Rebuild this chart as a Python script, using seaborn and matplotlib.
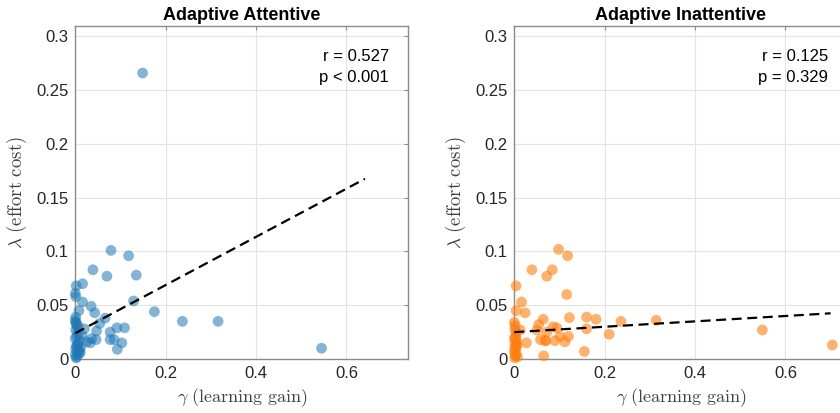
import numpy as np
import matplotlib
matplotlib.use("Agg")
import matplotlib.pyplot as plt
from matplotlib.ticker import FormatStrFormatter
import seaborn as sns

# ---- data -------------------------------------------------------------
gamma_attentive = [
    0.149, 0.545, 0.316, 0.237, 0.175, 0.129, 0.135, 0.118, 0.079, 0.039,
    0.070, 0.016, 0.002, 0.000, 0.001, 0.016, 0.035, 0.043, 0.008, 0.001,
    0.092, 0.109, 0.077, 0.066, 0.054, 0.047, 0.036, 0.025, 0.077, 0.086,
    0.103, 0.093, 0.033, 0.046, 0.000, 0.002, 0.004, 0.001, 0.006, 0.003,
    0.000, 0.010, 0.005, 0.002, 0.012, 0.001, 0.004, 0.008, 0.000, 0.003,
    0.015, 0.006, 0.002, 0.009, 0.001, 0.005, 0.020, 0.011,
]
lambda_attentive = [
    0.266, 0.010, 0.035, 0.035, 0.044, 0.054, 0.078, 0.096, 0.101, 0.083,
    0.077, 0.070, 0.068, 0.061, 0.058, 0.053, 0.049, 0.043, 0.045, 0.039,
    0.029, 0.029, 0.025, 0.038, 0.033, 0.026, 0.019, 0.016, 0.018, 0.018,
    0.015, 0.009, 0.015, 0.018, 0.036, 0.033, 0.030, 0.027, 0.024, 0.021,
    0.019, 0.017, 0.014, 0.012, 0.011, 0.009, 0.007, 0.005, 0.004, 0.002,
    0.022, 0.031, 0.001, 0.008, 0.034, 0.013, 0.028, 0.006,
]

gamma_inattentive = [
    0.704, 0.549, 0.314, 0.236, 0.210, 0.181, 0.160, 0.160, 0.155, 0.122,
    0.116, 0.118, 0.098, 0.084, 0.072, 0.039, 0.004, 0.016, 0.024, 0.004,
    0.064, 0.054, 0.050, 0.086, 0.094, 0.101, 0.120, 0.112, 0.070, 0.058,
    0.065, 0.027, 0.013, 0.072, 0.068, 0.090, 0.000, 0.002, 0.001, 0.004,
    0.003, 0.000, 0.005, 0.002, 0.006, 0.001, 0.003, 0.000, 0.004, 0.002,
    0.007, 0.001, 0.005, 0.003,
]
lambda_inattentive = [
    0.013, 0.027, 0.036, 0.035, 0.023, 0.037, 0.039, 0.028, 0.007, 0.0385,
    0.060, 0.096, 0.102, 0.083, 0.077, 0.083, 0.068, 0.053, 0.043, 0.045,
    0.037, 0.032, 0.027, 0.030, 0.029, 0.021, 0.021, 0.016, 0.017, 0.018,
    0.003, 0.015, 0.027, 0.025, 0.017, 0.017, 0.034, 0.031, 0.028, 0.025,
    0.021, 0.019, 0.017, 0.015, 0.013, 0.011, 0.009, 0.007, 0.005, 0.003,
    0.002, 0.001, 0.012, 0.020,
]

# linear fit lines: (intercept, slope, x end)
fit_attentive = (0.024, 0.224, 0.641)
fit_inattentive = (0.025, 0.025, 0.700)

stats_attentive = "r = 0.527\np < 0.001"
stats_inattentive = "r = 0.125\np = 0.329"

titles = ["Adaptive Attentive", "Adaptive Inattentive"]
x_ticks = [0, 0.2, 0.4, 0.6]
y_ticks = [0, 0.05, 0.1, 0.15, 0.2, 0.25, 0.3]

# ---- style ------------------------------------------------------------
sns.set_theme(style="white")
plt.rcParams["font.family"] = ["Liberation Sans", "DejaVu Sans"]
plt.rcParams["mathtext.fontset"] = "cm"

fig = plt.figure(figsize=(8.4, 4.13), dpi=100)
ax_left = fig.add_axes([75.3 / 840, 54 / 413, 333 / 840, 333.3 / 413])
ax_right = fig.add_axes([514.3 / 840, 54 / 413, 333 / 840, 333.3 / 413])

panels = [
    (ax_left, gamma_attentive, lambda_attentive, "#1f77b4", 0.55, fit_attentive, stats_attentive, titles[0]),
    (ax_right, gamma_inattentive, lambda_inattentive, "#ff7f0e", 0.6, fit_inattentive, stats_inattentive, titles[1]),
]

for ax, gx, ly, color, alpha, fit, stats, title in panels:
    sns.scatterplot(x=gx, y=ly, ax=ax, color=color, alpha=alpha, s=60,
                    edgecolor="none", linewidth=0, zorder=3)
    ax.collections[-1].set_clip_on(False)
    b0, b1, xe = fit
    xs = np.array([0.0, xe])
    sns.lineplot(x=xs, y=b0 + b1 * xs, ax=ax, color="black", lw=1.6,
                 dashes=False, zorder=4).lines[-1].set_dashes((4.5, 2.5))

    ax.set_xlim(0, 0.737)
    ax.set_ylim(0, 0.31)
    ax.set_xticks(x_ticks)
    ax.set_yticks(y_ticks)
    ax.xaxis.set_major_formatter(FormatStrFormatter("%g"))
    ax.yaxis.set_major_formatter(FormatStrFormatter("%g"))
    ax.grid(True, color="#e3e3e3", lw=0.8, zorder=0)
    ax.set_axisbelow(True)
    ax.tick_params(direction="in", length=3, width=0.8, colors="#8c8c8c",
                   labelcolor="#262626", labelsize=12, top=True, right=True,
                   pad=5)
    for sp in ax.spines.values():
        sp.set_visible(True)
        sp.set_color("#8c8c8c")
        sp.set_linewidth(1.0)

    ax.set_xlabel(r"$\gamma\ \mathrm{(learning\ gain)}$", fontsize=13,
                  color="#404040", labelpad=4)
    ax.set_ylabel(r"$\lambda\ \mathrm{(effort\ cost)}$", fontsize=13.5,
                  color="#404040", labelpad=5)
    ax.set_title(title, fontsize=13, fontweight="bold", color="black", pad=4)
    ax.text(0.942, 0.93, stats, transform=ax.transAxes, ha="right", va="top",
            fontsize=12, color="black", linespacing=1.5, zorder=5)

fig.savefig("out.png", dpi=100)
